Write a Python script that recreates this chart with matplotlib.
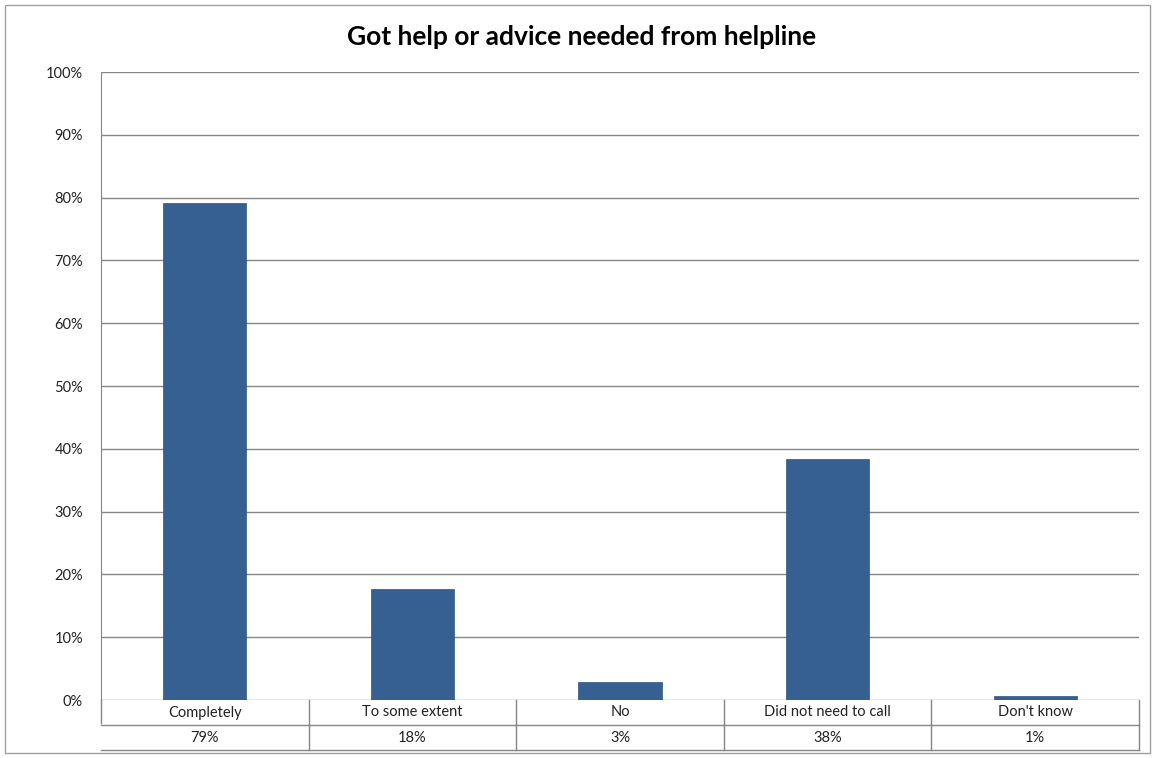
import numpy as np
import matplotlib.pyplot as plt
from matplotlib.patches import Rectangle
import matplotlib.transforms as mtransforms

categories = ['Completely', 'To some extent', 'No', 'Did not need to call', "Don't know"]
values = [79.2, 17.7, 2.9, 38.4, 0.6]
table_labels = ['79%', '18%', '3%', '38%', '1%']
yticks = [0, 10, 20, 30, 40, 50, 60, 70, 80, 90, 100]

plt.rcParams['font.family'] = ['Lato', 'DejaVu Sans']

W, H = 1157, 758
fig = plt.figure(figsize=(W / 100, H / 100), dpi=100)
# plot area in pixels: x 101..1139, y 72..700
ax = fig.add_axes([101 / W, 1 - 700 / H, (1139 - 101) / W, (700 - 72) / H])

grid_c = '#868686'
bar_c = '#366092'
txt_c = '#222222'
fs = 10.5

x = np.arange(len(categories))
ax.bar(x, values, width=0.4, color=bar_c, edgecolor='#2f5580', linewidth=0.5, zorder=3)
ax.set_xlim(-0.5, len(categories) - 0.5)
ax.set_ylim(0, 100)
ax.set_yticks(yticks)
ax.set_yticklabels([f'{v}%' for v in yticks], fontsize=fs, color=txt_c)
ax.tick_params(axis='y', length=0, pad=13)
ax.set_xticks([])
for v in yticks:
    ax.axhline(v, color=grid_c, linewidth=1, zorder=1)
for s in ['top', 'right', 'bottom']:
    ax.spines[s].set_visible(False)
ax.spines['left'].set_color(grid_c)

# data table below the axis
row_h = 25 / (700 - 72)
trans = mtransforms.blended_transform_factory(ax.transData, ax.transAxes)
ax.plot([-0.5, len(categories) - 0.5], [-row_h, -row_h], color=grid_c, lw=1,
        transform=trans, clip_on=False)
ax.plot([-0.5, len(categories) - 0.5], [-2 * row_h, -2 * row_h], color=grid_c, lw=1,
        transform=trans, clip_on=False)
ax.plot([-0.5, -0.5], [0, -0.92 * row_h], color=grid_c, lw=1, transform=trans, clip_on=False)
for b in np.arange(0.5, len(categories), 1.0):
    ax.plot([b, b], [0, -2 * row_h], color=grid_c, lw=1, transform=trans, clip_on=False)
for i, (c, t) in enumerate(zip(categories, table_labels)):
    ax.text(i, -0.5 * row_h, c, transform=trans, ha='center', va='center',
            fontsize=fs, color=txt_c)
    ax.text(i, -1.5 * row_h, t, transform=trans, ha='center', va='center',
            fontsize=fs, color=txt_c)

fig.text(582 / W, 1 - 37 / H, 'Got help or advice needed from helpline',
         ha='center', va='center', fontsize=19, fontweight='bold')

# outer chart border
fig.patches.append(Rectangle((5 / W, 5 / H), (1150 - 5) / W, (753 - 5) / H,
                             transform=fig.transFigure, fill=False,
                             edgecolor='#a0a0a0', linewidth=1))

fig.savefig('out.png', dpi=100)
